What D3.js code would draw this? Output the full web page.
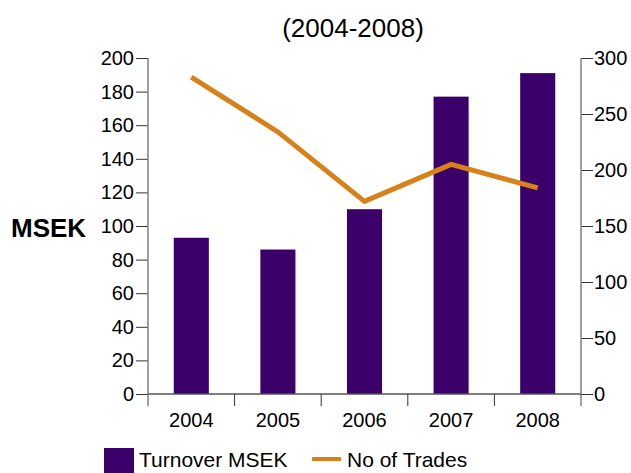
<!DOCTYPE html>
<html><head><meta charset="utf-8">
<script src="https://cdn.jsdelivr.net/npm/d3@7"></script>
<style>body{margin:0;background:#fff}svg{display:block}text{font-family:"Liberation Sans",Arial,sans-serif;fill:#000}</style>
</head><body><svg id="c" width="631" height="473"></svg>
<script>
const years = ["2004","2005","2006","2007","2008"];
const turnover = [93, 86, 110, 177, 191];
const trades = [283, 234, 172, 205, 184];
const leftTicks = [0,20,40,60,80,100,120,140,160,180,200];
const rightTicks = [0,50,100,150,200,250,300];

const svg = d3.select("#c");
const x0 = 148, x1 = 581, yTop = 58, yBot = 394;
const x = d3.scaleBand().domain(years).range([x0, x1]).paddingInner(0).paddingOuter(0);
const yL = d3.scaleLinear().domain([0,200]).range([yBot, yTop]);
const yR = d3.scaleLinear().domain([0,300]).range([yBot, yTop]);
const barColor = "#3c006a", lineColor = "#d98119";
const FF = "Liberation Sans, Arial, sans-serif";

// bars
const bw = x.bandwidth()*0.405;
svg.append("g").selectAll("rect").data(years).join("rect")
  .attr("x", d => x(d) + x.bandwidth()/2 - bw/2)
  .attr("width", bw)
  .attr("y", (d,i) => yL(turnover[i]))
  .attr("height", (d,i) => yBot - yL(turnover[i]))
  .attr("fill", barColor);

// line
svg.append("path").datum(trades)
  .attr("d", d3.line().x((d,i) => x(years[i]) + x.bandwidth()/2).y(d => yR(d)))
  .attr("fill","none").attr("stroke", lineColor).attr("stroke-width", 5);

// left axis
const gL = svg.append("g").attr("transform", `translate(${x0},0)`)
  .call(d3.axisLeft(yL).tickValues(leftTicks).tickSize(12).tickPadding(2));
gL.select(".domain").remove();
gL.append("line").attr("x1",0).attr("x2",0).attr("y1",yTop).attr("y2",yBot+12).attr("stroke","#808080").attr("stroke-width",1.5);
gL.selectAll(".tick line").attr("stroke","#333");
gL.selectAll(".tick text").attr("font-size",20).style("font-family",FF).attr("fill","#000");

// right axis
const gR = svg.append("g").attr("transform", `translate(${x1},0)`)
  .call(d3.axisRight(yR).tickValues(rightTicks).tickSize(12).tickPadding(1));
gR.select(".domain").remove();
gR.append("line").attr("x1",0).attr("x2",0).attr("y1",yTop).attr("y2",yBot+12).attr("stroke","#808080").attr("stroke-width",1.5);
gR.selectAll(".tick line").attr("stroke","#333");
gR.selectAll(".tick text").attr("font-size",20).style("font-family",FF).attr("fill","#000");

// bottom axis
const gB = svg.append("g").attr("transform", `translate(0,${yBot})`)
  .call(d3.axisBottom(x).tickSize(0).tickPadding(19));
gB.select(".domain").remove();
gB.append("line").attr("x1",x0).attr("x2",x1).attr("y1",0).attr("y2",0).attr("stroke","#555").attr("stroke-width",1.5);
gB.selectAll(".sep").data(years.slice(1)).join("line").attr("class","sep")
  .attr("x1", d => x(d)).attr("x2", d => x(d)).attr("y1",0).attr("y2",12).attr("stroke","#333");
gB.selectAll(".tick text").attr("font-size",20).style("font-family",FF).attr("fill","#000");

// title & label
svg.append("text").attr("x",353).attr("y",37).attr("text-anchor","middle").attr("font-size",26).text("(2004-2008)");
svg.append("text").attr("x",11).attr("y",237).attr("font-size",26).attr("font-weight","bold").text("MSEK");

// legend
svg.append("rect").attr("x",104).attr("y",448).attr("width",30).attr("height",25).attr("fill",barColor);
svg.append("text").attr("x",139).attr("y",467).attr("font-size",21).text("Turnover MSEK");
svg.append("line").attr("x1",312).attr("x2",341).attr("y1",459).attr("y2",459).attr("stroke",lineColor).attr("stroke-width",4);
svg.append("text").attr("x",347).attr("y",467).attr("font-size",21).text("No of Trades");
</script></body></html>
